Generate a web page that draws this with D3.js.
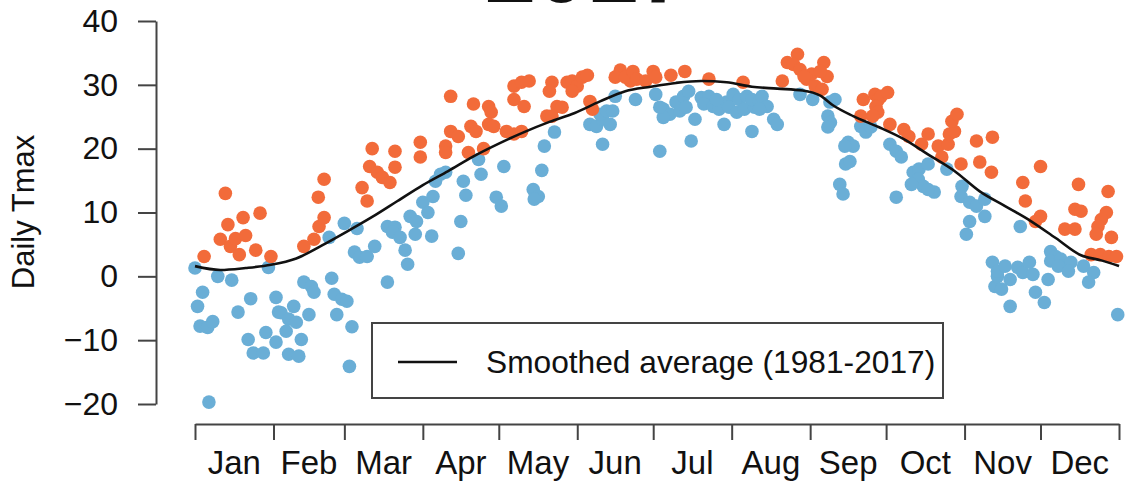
<!DOCTYPE html>
<html>
<head>
<meta charset="utf-8">
<script src="https://cdn.jsdelivr.net/npm/d3@7"></script>
<style>
  body { margin: 0; background: #fff; }
  text { font-family: "Liberation Sans", Arial, Helvetica, sans-serif; fill: #111; }
</style>
</head>
<body>
<svg id="chart" width="1129" height="482"></svg>
<script>
// month boundaries as day of year (2017), and labels
var monthStarts = [0, 31, 59, 90, 120, 151, 181, 212, 243, 273, 304, 334, 365];
var monthNames = ["Jan", "Feb", "Mar", "Apr", "May", "Jun", "Jul", "Aug", "Sep", "Oct", "Nov", "Dec"];
var yTicks = [-20, -10, 0, 10, 20, 30, 40];

// smoothed average 1981-2017 [day, tmax]
var smoothAvg = [
  [0, 1.6], [10, 1.0], [20, 1.3], [30, 1.8], [40, 2.8], [50, 4.8], [60, 7.0], [70, 9.3],
  [80, 11.8], [90, 14.3], [100, 16.5], [110, 18.8], [120, 20.8], [130, 22.6], [140, 24.2],
  [150, 25.6], [160, 27.4], [170, 29.0], [180, 29.7], [190, 30.3], [200, 30.6], [210, 30.4],
  [220, 29.7], [230, 29.4], [240, 29.1], [247, 28.3], [252, 26.8], [260, 25.1], [270, 23.4],
  [280, 21.5], [290, 19.0], [300, 16.5], [310, 13.3], [320, 11.0], [330, 8.7], [340, 6.0],
  [350, 3.3], [358, 2.5], [365, 1.6]
];

// daily Tmax 2017 below the average [day, tmax]
var belowAvg = [
  [0, 1.3], [3, -2.5], [1, -4.7], [2, -7.8], [5, -8.0], [7, -7.1], [5.5, -19.7], [9, 0], [14.5, -0.6],
  [17, -5.6], [22, -3.5], [21, -9.9], [23, -12], [27, -12], [28, -8.8], [29, 1.4], [32, -3.3],
  [32, -10.3], [33, -5.6], [34, -5.7], [37, -6.7], [39, -4.7], [36, -8.6], [40, -7.2], [42, -9.9],
  [37, -12.2], [41, -12.5], [43, -0.9], [46, -1.6], [47, -2.5], [45, -6], [53, 6.1], [59, 8.3],
  [54, -0.3], [55, -2.8], [58, -3.6], [60, -3.9], [56, -6], [62, -7.9], [61, -14.1], [64, 7.5],
  [63, 3.8], [65, 3], [68, 3.1], [71, 4.7], [76, -0.9], [76, 7.8], [79, 7.7],
  [78, 6.9], [81, 6.1], [83, 4.1], [84, 1.9], [85, 9.4], [87.5, 8.6], [87, 6.6], [90, 11.6], [92, 10],
  [94, 12.5], [93.5, 6.3], [97, 16], [99, 16.3], [95, 14.9], [105, 8.6], [104, 3.6], [106, 14.9],
  [107, 12.7], [112, 18.3], [113, 16], [119, 12.4], [121, 11], [122, 17.2],
  [138, 20.4], [137, 16.6], [133.6, 13.6], [135.6, 12.5], [134, 12.1], [142, 22.6], [156, 23.8],
  [158.6, 23.5], [161, 24.6], [164, 23.8], [160, 25.4], [162.6, 25.9], [165, 25.9], [161, 20.7],
  [166, 28.2], [174, 27.7],
  [182, 28.5], [185, 26.2], [187.6, 25.4], [185, 24.9], [183.6, 26.5], [190, 27.3], [193, 28.2],
  [195, 29], [191.5, 25.9], [194, 26.5], [197.5, 24.6], [196, 21.2], [183.6, 19.6], [200, 28],
  [203, 28.2], [201, 27], [204.7, 26.6], [207, 26.2], [210, 27.3], [211, 26.5], [206, 27.7],
  [209, 23.8], [212.6, 28.5], [215, 27.7], [218, 28.2], [214, 25.7], [217, 26.2], [220, 22.7],
  [221, 26.5],
  [220, 27.7], [223, 27.4], [224, 28.2], [226, 26.6], [223, 26.2], [228.6, 24.6], [230, 23.8],
  [239, 28.5], [244, 27.7], [250.8, 27.3], [252.8, 27.7], [250, 25.1], [251, 24.1], [250, 23.4],
  [258, 21], [260, 20.4], [256.7, 20.4], [257, 17.6], [258.7, 18], [254.7, 14.4], [256, 12.9],
  [263, 23.5], [265, 22.6], [267, 23.4],
  [274.5, 20.7], [277, 19.6], [279, 18.7], [277, 12.4], [283.7, 16.3], [286, 16.8], [289.6, 17.6],
  [285.7, 15.2], [287.7, 14.1], [283, 14.4], [292, 13.2], [289.6, 13.6], [297, 16.8], [303, 14.1],
  [302.6, 12.5], [306, 11.6], [308.7, 11], [312, 12.1], [312, 9.4], [306, 8.6], [304.7, 6.6],
  [315, 2.2], [316, -1.6], [317, 0],
  [326, 7.8], [317, 0.8], [320, 1.6], [322, -0.5], [318.6, -2], [322, -4.7], [325, 1.4], [327, 0.6],
  [329.6, 2.2], [331, 0.3], [332, -2.5], [335.5, -4.1], [337, -0.5], [338, 3.9], [340, 3.1],
  [338, 2.4], [342, 2.7], [344, 1.6], [346, 2.2], [341, 1.6], [345, 0.8], [351, 1.6], [355, 0.6],
  [353, -0.9], [364.5, -6]
];

// daily Tmax 2017 above the average [day, tmax]
var aboveAvg = [
  [3.6, 3.1], [12, 13], [13, 8.1], [10, 5.8], [14, 4.7], [16, 5.9], [17.5, 3.4], [19, 9.2], [20, 6.4],
  [24, 4.1], [25.7, 9.9], [30, 3.1],
  [43, 4.7], [47, 5.8], [49, 7.8], [51, 9.2], [48.7, 12.4], [51, 15.2], [66, 13.9], [68, 11.8],
  [70, 20], [69, 17.2], [72, 16.3], [74, 15.5], [77, 14.7], [79, 19.6], [79, 17.1],
  [89, 21], [89, 18.7], [101, 28.2], [101, 22.7], [104, 21.9], [99, 20.4], [99, 19.4], [108, 19.4],
  [109, 23.5], [111, 22.7], [110, 27], [116, 26.6], [117, 25.7], [116, 23.8], [118, 23.5], [114, 20],
  [123, 22.7], [126, 22.3], [129, 22.7], [126, 29.8], [126, 27.7],
  [129, 30.4], [132, 30.6], [130, 26.6], [141, 30.4], [140, 29], [147, 30.4], [149, 30.6], [151, 29.8],
  [153, 31.2], [155, 31.5], [149, 29], [143, 26.6], [145, 26.5], [139, 25.1], [141, 25.1], [156, 27.4],
  [157, 26.2], [168, 32.3], [166, 31.2], [172, 30.6], [170, 31.2],
  [173, 32.1], [174.5, 30.9], [178, 30.6], [181, 32.1], [182, 31.2], [188, 31.5], [193.5, 32.1],
  [203, 30.9], [216.5, 30.4],
  [232, 30.6], [234, 33.5], [238, 34.8], [236.4, 33.2], [239, 32.4], [243.6, 31.7], [241.6, 30.9],
  [245, 29.8], [247.7, 29.3], [248.4, 33.5], [249.7, 31.3], [247, 32.1], [240.6, 31.3], [264, 27.7],
  [263, 25.1], [268.6, 28.5], [270, 27.7],
  [271, 28.2], [273.6, 28.8], [269, 26.6], [269.7, 25.7], [267.7, 25.1], [274.5, 23.8], [280, 23],
  [282, 21.9], [287, 20.7], [289.6, 22.3], [293.6, 20.4], [297.5, 20.7], [298, 22.3], [300, 22.7],
  [299, 24.3], [301, 25.4], [295, 18.7], [302.6, 17.6], [308.7, 21.2], [315, 21.8], [310, 17.9],
  [314.6, 16.3],
  [327, 14.7], [328, 11.8], [334, 17.2], [334, 9.4], [332, 8.6], [343.6, 7.4], [347.6, 7.4],
  [349, 14.4], [347.6, 10.5], [350, 10.2], [360.7, 13.3], [360, 10], [358, 8.9], [356.7, 7.8],
  [356, 6.6], [362, 6.1], [354, 3.4], [357.6, 3.4], [361, 3.1], [364, 3.1]
];

var blue = "#6aaed6", orange = "#f26b3a", axisCol = "#444";

var svg = d3.select("#chart");

var x = d3.scaleLinear().domain([0, 365]).range([195, 1119]);
var y = d3.scaleLinear().domain([-20, 40]).range([404, 21]);

// title, mostly cut off at the top edge
svg.append("text")
  .attr("x", 587).attr("y", 1.5)
  .attr("text-anchor", "middle")
  .style("font-size", "92px").style("font-weight", "bold")
  .attr("fill", "#333")
  .text("2017");

// points
svg.append("g").selectAll("circle.below")
  .data(belowAvg).enter().append("circle")
  .attr("class", "below")
  .attr("cx", d => x(d[0])).attr("cy", d => y(d[1]))
  .attr("r", 6.8).attr("fill", blue);

svg.append("g").selectAll("circle.above")
  .data(aboveAvg).enter().append("circle")
  .attr("class", "above")
  .attr("cx", d => x(d[0])).attr("cy", d => y(d[1]))
  .attr("r", 6.8).attr("fill", orange);

// smoothed average
var line = d3.line()
  .x(d => x(d[0])).y(d => y(d[1]))
  .curve(d3.curveMonotoneX);

svg.append("path")
  .datum(smoothAvg)
  .attr("d", line)
  .attr("fill", "none")
  .attr("stroke", "#111")
  .attr("stroke-width", 2.6);

// y axis
var yAxis = d3.axisLeft(y).tickValues(yTicks).tickSize(18).tickSizeOuter(0).tickPadding(20);
var gy = svg.append("g").attr("transform", "translate(156,0)").call(yAxis);
gy.selectAll("path, line").attr("stroke", axisCol).attr("stroke-width", 2);
gy.selectAll("text").style("font-size", "32px").attr("fill", "#111");

// x axis with month boundaries
var xAxis = d3.axisBottom(x).tickValues(monthStarts).tickSize(16).tickSizeOuter(0).tickFormat("");
var gx = svg.append("g").attr("transform", "translate(0,424)").call(xAxis);
gx.selectAll("path, line").attr("stroke", axisCol).attr("stroke-width", 2);

svg.append("g").selectAll("text")
  .data(monthNames).enter().append("text")
  .attr("x", (d, i) => x((monthStarts[i] + monthStarts[i + 1]) / 2))
  .attr("y", 474)
  .attr("text-anchor", "middle")
  .style("font-size", "33px")
  .text(d => d);

// y label
svg.append("text")
  .attr("transform", "translate(34,212) rotate(-90)")
  .attr("text-anchor", "middle")
  .style("font-size", "31px")
  .text("Daily Tmax");

// legend
var leg = svg.append("g");
leg.append("rect")
  .attr("x", 372).attr("y", 323).attr("width", 571).attr("height", 75)
  .attr("fill", "#fff").attr("stroke", axisCol).attr("stroke-width", 2);
leg.append("line")
  .attr("x1", 398).attr("x2", 457).attr("y1", 362).attr("y2", 362)
  .attr("stroke", "#111").attr("stroke-width", 2.6);
leg.append("text")
  .attr("x", 486).attr("y", 373)
  .style("font-size", "31.7px")
  .text("Smoothed average (1981-2017)");
</script>
</body>
</html>
